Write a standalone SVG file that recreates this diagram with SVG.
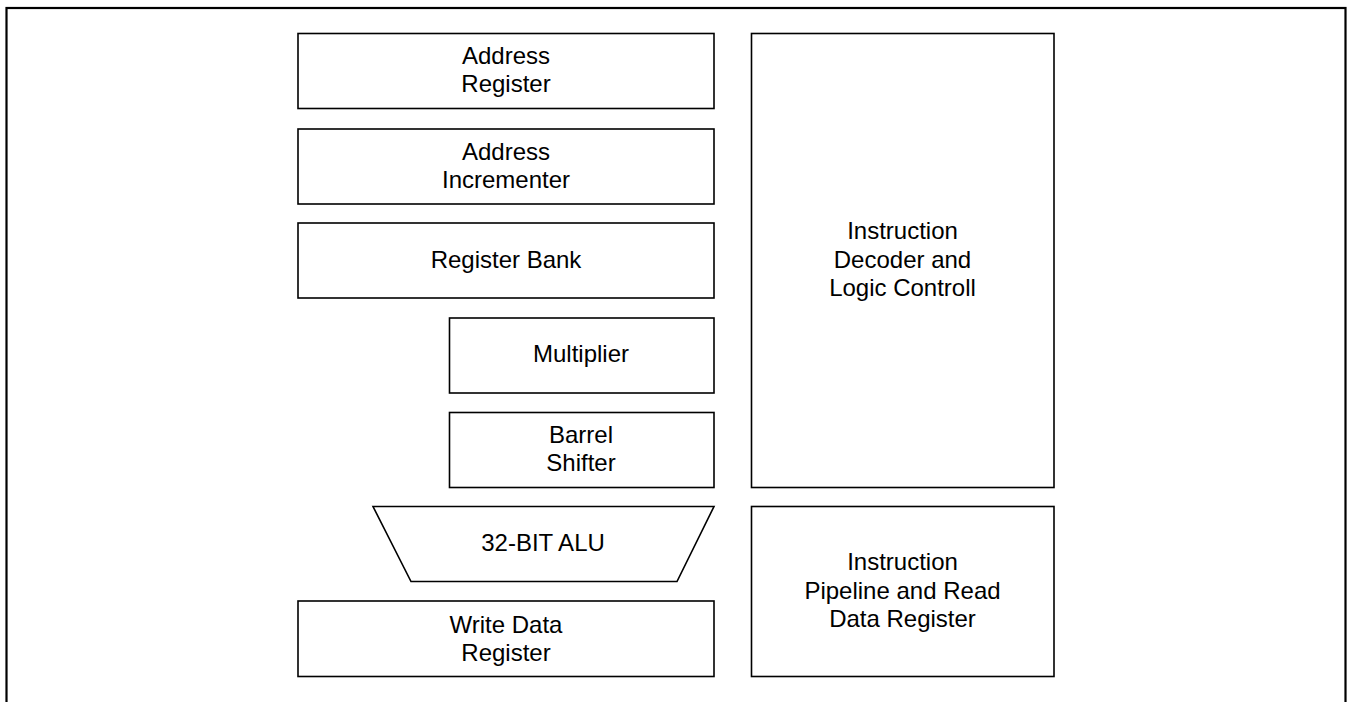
<svg xmlns="http://www.w3.org/2000/svg" width="1347" height="702" viewBox="0 0 1347 702">
<style>
.frame{fill:none;stroke:#000;stroke-width:2.2}
.box{fill:#fff;stroke:#000;stroke-width:1.6}
.t{font-family:"Liberation Sans",Arial,sans-serif;font-size:24px;fill:#000;text-anchor:middle}
</style>
<rect width="1347" height="702" fill="#fff"/>
<rect class="frame" x="6.5" y="8" width="1339" height="720"/>
<g id="address-register">
<rect class="box" x="298" y="33.5" width="416" height="75"/>
<text class="t" x="506" y="64">Address</text>
<text class="t" x="506" y="92">Register</text>
</g>
<g id="address-incrementer">
<rect class="box" x="298" y="129" width="416" height="75"/>
<text class="t" x="506" y="159.5">Address</text>
<text class="t" x="506" y="187.5">Incrementer</text>
</g>
<g id="register-bank">
<rect class="box" x="298" y="223" width="416" height="75"/>
<text class="t" x="506" y="267.5">Register Bank</text>
</g>
<g id="multiplier">
<rect class="box" x="449.5" y="318" width="264.5" height="75"/>
<text class="t" x="581" y="362">Multiplier</text>
</g>
<g id="barrel-shifter">
<rect class="box" x="449.5" y="412.5" width="264.5" height="75"/>
<text class="t" x="581" y="442.5">Barrel</text>
<text class="t" x="581" y="470.5">Shifter</text>
</g>
<g id="alu">
<polygon class="box" points="373,506.5 714,506.5 677,581.5 411,581.5"/>
<text class="t" x="543" y="551">32-BIT ALU</text>
</g>
<g id="write-data-register">
<rect class="box" x="298" y="601" width="416" height="75.5"/>
<text class="t" x="506" y="632.5">Write Data</text>
<text class="t" x="506" y="660.5">Register</text>
</g>
<g id="instruction-decoder">
<rect class="box" x="751.5" y="33.5" width="302.5" height="454"/>
<text class="t" x="902.5" y="238.5">Instruction</text>
<text class="t" x="902.5" y="267.5">Decoder and</text>
<text class="t" x="902.5" y="296">Logic Controll</text>
</g>
<g id="instruction-pipeline">
<rect class="box" x="751.5" y="506.5" width="302.5" height="170"/>
<text class="t" x="902.5" y="570">Instruction</text>
<text class="t" x="902.5" y="598.5">Pipeline and Read</text>
<text class="t" x="902.5" y="627">Data Register</text>
</g>
<g id="connectors"></g>
</svg>
